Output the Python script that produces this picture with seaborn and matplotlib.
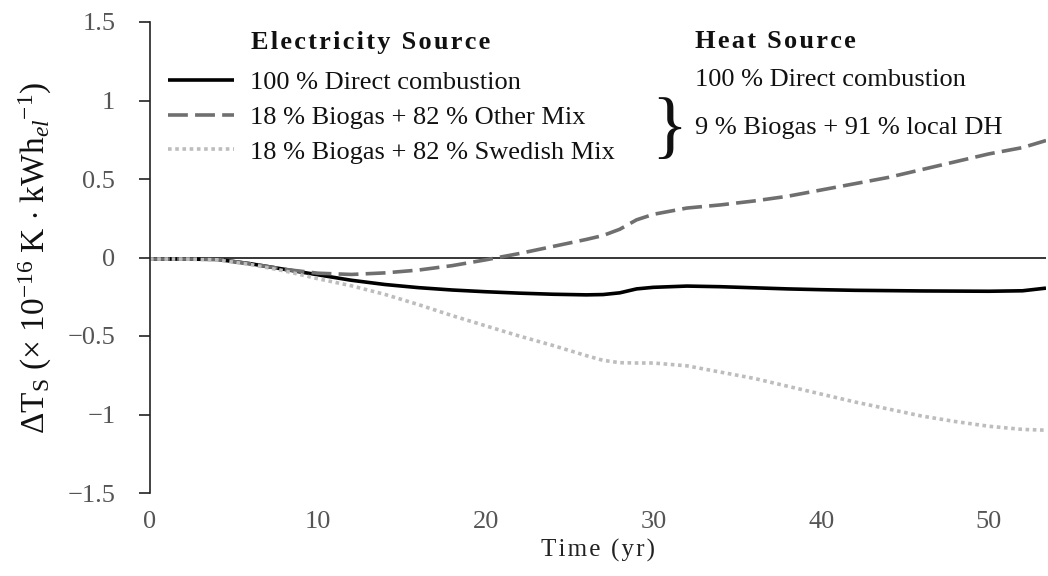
import numpy as np
import pandas as pd
import seaborn as sns
import matplotlib.pyplot as plt
from matplotlib.ticker import FuncFormatter

# ---- data ----
years = [0, 2, 4, 6, 8, 10, 12, 14, 16, 18, 20, 22, 24, 26, 27, 28, 29, 30,
         32, 34, 36, 38, 40, 42, 44, 46, 48, 50, 52, 53.4]
direct = [-0.01, -0.01, -0.012, -0.04, -0.075, -0.11, -0.145, -0.172, -0.192, -0.207,
          -0.218, -0.227, -0.234, -0.238, -0.236, -0.225, -0.200, -0.190,
          -0.182, -0.186, -0.193, -0.200, -0.205, -0.209, -0.211, -0.213, -0.214,
          -0.215, -0.212, -0.195]
other_mix = [-0.01, -0.01, -0.012, -0.04, -0.075, -0.10, -0.108, -0.098, -0.080, -0.052,
             -0.015, 0.025, 0.070, 0.115, 0.140, 0.180, 0.240, 0.275,
             0.315, 0.335, 0.360, 0.390, 0.430, 0.470, 0.510, 0.560, 0.610,
             0.660, 0.700, 0.745]
swedish_mix = [-0.01, -0.01, -0.015, -0.045, -0.085, -0.135, -0.18, -0.235, -0.30, -0.37,
               -0.435, -0.50, -0.56, -0.625, -0.655, -0.670, -0.672, -0.672,
               -0.690, -0.730, -0.770, -0.820, -0.870, -0.920, -0.965, -1.010, -1.045,
               -1.075, -1.095, -1.100]

elec_labels = ["100 % Direct combustion",
               "18 % Biogas + 82 % Other Mix",
               "18 % Biogas + 82 % Swedish Mix"]
heat_labels = ["100 % Direct combustion", "9 % Biogas + 91 % local DH"]
elec_title = "Electricity Source"
heat_title = "Heat Source"
x_title = "Time (yr)"
yticks = [-1.5, -1, -0.5, 0, 0.5, 1, 1.5]
xticks = [0, 10, 20, 30, 40, 50]

sns.set_theme(style="white")
plt.rcParams["font.family"] = ["Liberation Serif", "DejaVu Serif"]
plt.rcParams["mathtext.fontset"] = "custom"
plt.rcParams["mathtext.rm"] = "Liberation Serif"
plt.rcParams["mathtext.it"] = "Liberation Serif:italic"
plt.rcParams["mathtext.bf"] = "Liberation Serif:bold"
plt.rcParams["axes.unicode_minus"] = True

W, H = 1048, 576
fig = plt.figure(figsize=(W / 100, H / 100), dpi=100)
ax = fig.add_axes([150 / W, 1 - 493 / H, (1046 - 150) / W, (493 - 22) / H])

df = pd.DataFrame({"Time": years, "direct": direct,
                   "other": other_mix, "swedish": swedish_mix})

series = [("direct", elec_labels[0], "black", "-", 2.6),
          ("other", elec_labels[1], "#6f6f6f", (0, (5.5, 2.0)), 2.6),
          ("swedish", elec_labels[2], "#bdbdbd", (0, (1, 1)), 2.6)]
for col, lab, c, ls, lw in series:
    sns.lineplot(data=df, x="Time", y=col, ax=ax, color=c, linestyle=ls,
                 linewidth=lw, label=lab, legend=False, solid_capstyle="butt",
                 dash_capstyle="butt")

ax.axhline(0, color="black", lw=1.1, zorder=1)

ax.set_xlim(0, 53.4)
ax.set_ylim(-1.5, 1.5)
ax.set_xticks(xticks)
ax.set_yticks(yticks)
ax.yaxis.set_major_formatter(FuncFormatter(lambda v, p: f"{v:g}".replace("-", "\u2212")))

for s in ["top", "right", "bottom"]:
    ax.spines[s].set_visible(False)
ax.spines["left"].set_color("#222222")
ax.spines["left"].set_linewidth(1.2)
ax.tick_params(axis="y", direction="out", length=8, width=1.2, color="#222222",
               labelsize=19, labelcolor="#555555", pad=17, left=True)
ax.tick_params(axis="x", length=0, labelsize=19, labelcolor="#555555", pad=13)


def spaced(s):
    return "\u200a".join(s)


ax.set_xlabel(spaced(x_title), fontsize=18, color="#222222", labelpad=4)
ax.set_ylabel(r"$\Delta$T$_{\rm S}$ ($\times$ 10$^{-16}$ K $\cdot$ kWh$_{el}$$^{-1}$)",
              fontsize=24, color="#111111", labelpad=10)

# legend (electricity source)
handles, labels = ax.get_legend_handles_labels()
ax.legend(handles, labels, loc="upper left", bbox_to_anchor=(168 / W, 1 - 71 / H),
          bbox_transform=fig.transFigure, frameon=False, fontsize=19,
          handlelength=2.5, handletextpad=0.6, labelspacing=0.42,
          borderpad=0, borderaxespad=0, labelcolor="#111111")

fig.text(251 / W, 1 - 42 / H, spaced(elec_title), fontsize=19, weight="bold",
         va="center", ha="left", color="#111111")
fig.text(695 / W, 1 - 42 / H, spaced(heat_title), fontsize=19, weight="bold",
         va="center", ha="left", color="#111111")
fig.text(695 / W, 1 - 80 / H, heat_labels[0], fontsize=19, va="center", ha="left",
         color="#111111")
fig.text(695 / W, 1 - 128 / H, heat_labels[1], fontsize=19, va="center", ha="left",
         color="#111111")
fig.text(669 / W, 1 - 131 / H, "}", fontsize=54, va="center", ha="center",
         color="#111111")

fig.savefig("out.png", dpi=100)
